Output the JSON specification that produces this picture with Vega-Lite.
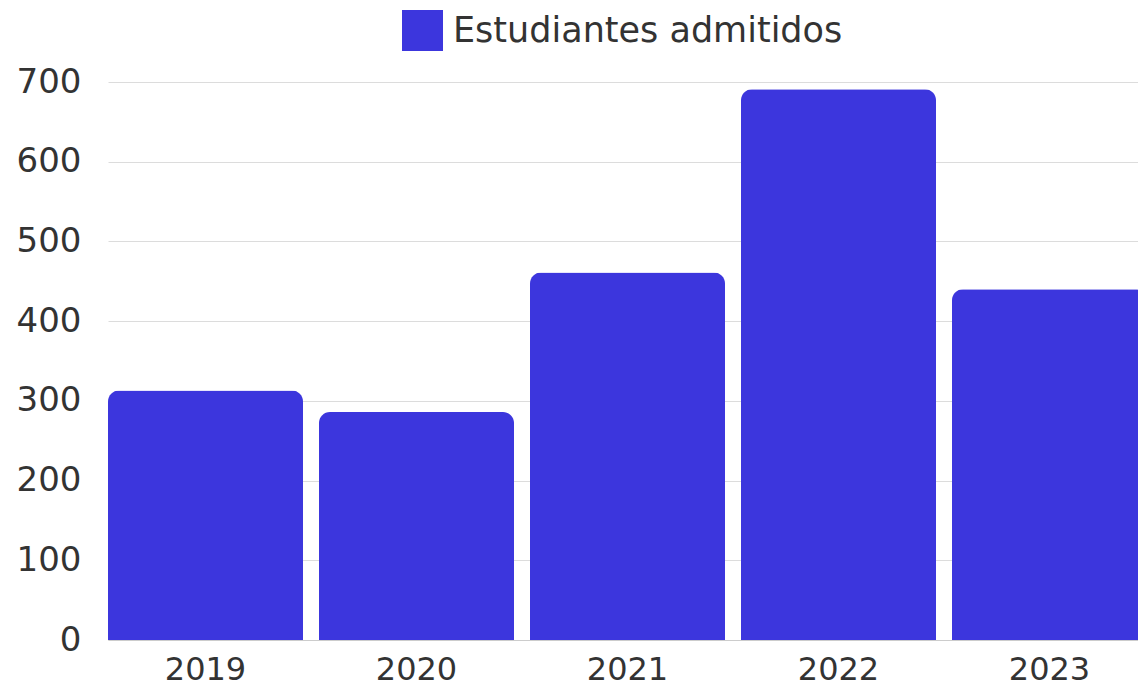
{
  "$schema": "https://vega.github.io/schema/vega-lite/v6.json",
  "autosize": {"type": "none"},
  "width": 1030,
  "height": 558,
  "padding": {"left": 108, "top": 82, "right": 0, "bottom": 47},
  "background": "#ffffff",
  "config": {
    "view": {"stroke": null},
    "font": "DejaVu Sans"
  },
  "data": {
    "values": [
      {"anio": "2019", "valor": 313, "serie": "Estudiantes admitidos"},
      {"anio": "2020", "valor": 286, "serie": "Estudiantes admitidos"},
      {"anio": "2021", "valor": 461, "serie": "Estudiantes admitidos"},
      {"anio": "2022", "valor": 691, "serie": "Estudiantes admitidos"},
      {"anio": "2023", "valor": 440, "serie": "Estudiantes admitidos"}
    ]
  },
  "mark": {"type": "bar", "cornerRadiusTopLeft": 11, "cornerRadiusTopRight": 11},
  "encoding": {
    "x": {
      "field": "anio",
      "type": "ordinal",
      "scale": {"range": [0, 1039], "paddingInner": 0.0758, "paddingOuter": 0},
      "axis": {
        "title": null,
        "labelAngle": 0,
        "labelFontSize": 32,
        "labelColor": "#333333",
        "labelPadding": 14,
        "ticks": false,
        "domain": true,
        "domainColor": "#cccccc",
        "domainWidth": 1
      }
    },
    "y": {
      "field": "valor",
      "type": "quantitative",
      "scale": {"domain": [0, 700]},
      "axis": {
        "title": null,
        "values": [0, 100, 200, 300, 400, 500, 600, 700],
        "labelFontSize": 34,
        "labelColor": "#333333",
        "labelPadding": 27,
        "ticks": false,
        "domain": false,
        "gridColor": "#dcdcdc",
        "gridWidth": 1
      }
    },
    "color": {
      "field": "serie",
      "type": "nominal",
      "scale": {"range": ["#3c36dd"]},
      "legend": {
        "title": null,
        "orient": "none",
        "legendX": 294,
        "legendY": -72,
        "symbolType": "square",
        "symbolSize": 1681,
        "symbolStrokeWidth": 0,
        "labelFontSize": 35,
        "labelColor": "#333333",
        "labelOffset": 10,
        "labelLimit": 0
      }
    }
  }
}
